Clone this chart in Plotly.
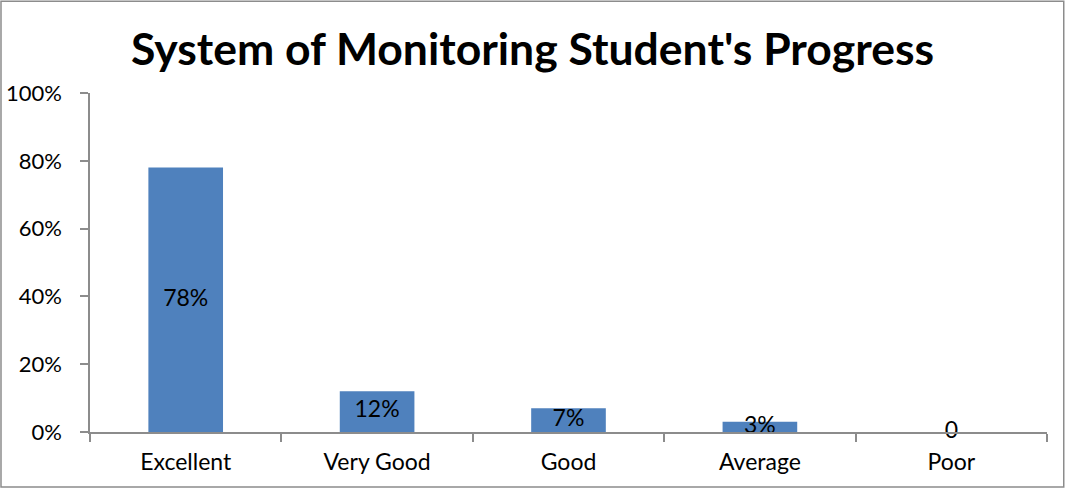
import plotly.graph_objects as go

# Data
categories = ["Excellent", "Very Good", "Good", "Average", "Poor"]
shares = [0.78, 0.12, 0.07, 0.03, 0.0]
bar_labels = ["78%", "12%", "7%", "3%", "0"]
y_ticks = [0, 0.2, 0.4, 0.6, 0.8, 1.0]
y_tick_labels = ["0%", "20%", "40%", "60%", "80%", "100%"]

FONT = "Lato, Carlito, Calibri, sans-serif"
AXIS_GREY = "#8c8c8c"

fig = go.Figure()

fig.add_trace(
    go.Bar(
        x=categories,
        y=shares,
        marker=dict(color="#4f81bd", line=dict(width=0)),
        width=0.39,
        hoverinfo="skip",
    )
)

# value labels sit at the middle of each bar
fig.add_trace(
    go.Scatter(
        x=categories,
        y=[v / 2 for v in shares],
        mode="text",
        text=bar_labels,
        textposition="middle center",
        textfont=dict(family=FONT, size=23, color="black"),
        cliponaxis=False,
        hoverinfo="skip",
    )
)

fig.update_layout(
    width=1065,
    height=489,
    margin=dict(l=90, r=18, t=93, b=57, autoexpand=False),
    paper_bgcolor="white",
    plot_bgcolor="white",
    showlegend=False,
    title=dict(
        text="<b>System of Monitoring Student's Progress</b>",
        font=dict(family=FONT, size=44.5, color="black"),
        x=0.5,
        xanchor="center",
        y=0.898,
        yanchor="middle",
    ),
    font=dict(family=FONT, size=23, color="black"),
)

fig.update_xaxes(
    showgrid=False,
    showline=True,
    linecolor=AXIS_GREY,
    linewidth=1.5,
    ticks="outside",
    tickson="boundaries",
    ticklen=8,
    tickcolor=AXIS_GREY,
    tickwidth=1.5,
    ticklabelstandoff=9,
    automargin=False,
    tickfont=dict(family=FONT, size=23, color="black"),
)

fig.update_yaxes(
    range=[0, 1],
    tickvals=y_ticks,
    ticktext=y_tick_labels,
    showgrid=False,
    zeroline=False,
    showline=True,
    linecolor=AXIS_GREY,
    linewidth=1.5,
    ticks="outside",
    ticklen=8,
    tickcolor=AXIS_GREY,
    tickwidth=1.5,
    ticklabelstandoff=14,
    automargin=False,
    tickfont=dict(family=FONT, size=22, color="black"),
)

# outer chart frame
fig.add_shape(
    type="rect",
    xref="paper",
    yref="paper",
    x0=-0.093,
    x1=1.0175,
    y0=-0.162,
    y1=1.271,
    line=dict(color=AXIS_GREY, width=1.5),
    layer="below",
)

fig.write_html(
    "out.html",
    config={"displayModeBar": False},
    post_script="document.body.style.margin='0px';document.body.style.overflow='hidden';",
)
